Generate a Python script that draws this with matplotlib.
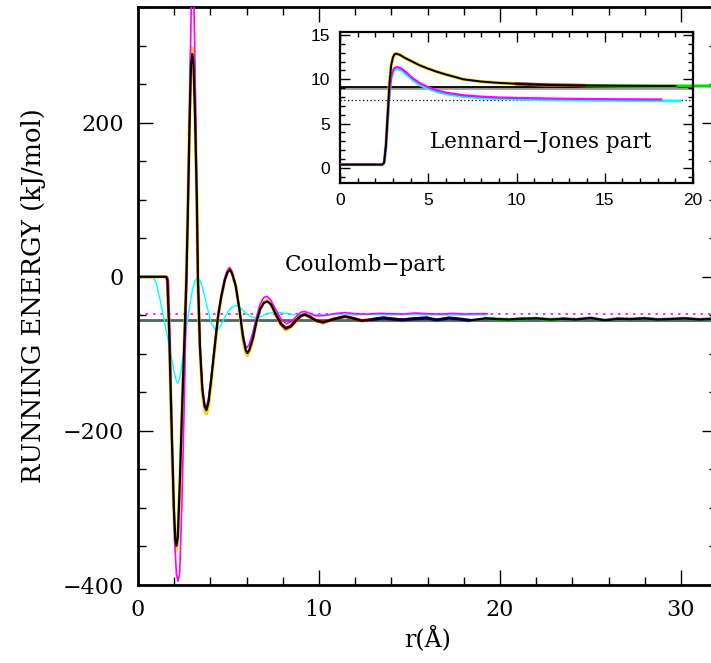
import matplotlib
matplotlib.use("Agg")
import matplotlib.pyplot as plt
from matplotlib.ticker import MultipleLocator

# ---- Coulomb part (main panel) ----
coul_r = [0.0, 1.55, 1.62, 1.72, 1.85, 1.98, 2.06, 2.12, 2.2, 2.32,
          2.45, 2.58, 2.67, 2.75, 2.85, 2.93, 3.0, 3.07, 3.15, 3.25,
          3.31, 3.42, 3.55, 3.68, 3.78, 3.9, 4.05, 4.25, 4.42, 4.6,
          4.8, 4.95, 5.08, 5.2, 5.4, 5.6, 5.8, 5.95, 6.04, 6.15,
          6.35, 6.55, 6.75, 6.95, 7.15, 7.35, 7.6, 7.9, 8.16, 8.45,
          8.75, 9.0, 9.23, 9.5, 9.8, 10.24, 10.8, 11.44, 11.9, 12.36,
          12.95, 13.55, 14.1, 14.6, 15.3, 15.95, 16.5, 17.2, 17.8, 18.3,
          19.2, 19.9, 20.5, 21.2, 22.0, 22.8, 23.5, 24.2, 25.0, 25.8,
          26.5, 27.2, 28.0, 28.7, 29.4, 30.2, 31.0, 31.8]
coul_black = [0, 0, -4, -70, -190, -300, -340, -349, -338, -260,
              -160, -70, -4, 80, 200, 275, 289, 275, 210, 100,
              -4, -90, -145, -168, -173, -162, -132, -88, -52, -26,
              -4, 6, 9, 4, -12, -42, -78, -95, -99, -95,
              -80, -58, -42, -34, -32, -36, -48, -61, -67, -64,
              -56, -50.5, -49, -52, -56.5, -59, -55, -51.5, -54, -57,
              -55.5, -53.5, -55, -56, -54.5, -53.5, -56, -53.5, -55, -56.5,
              -54, -55, -55.5, -54.5, -54, -55.5, -54.5, -55.5, -53.5, -56.5,
              -54.5, -55, -54, -55.5, -55, -54, -55.5, -54.5]
# yellow set lies under the black one, slightly deeper extremes
coul_yellow = [0, 0, -4, -72, -193, -305, -346, -355, -343, -264,
               -162, -71, -4, 82, 205, 283, 297, 282, 214, 101,
               -4, -92, -149, -173, -178, -166, -135, -90, -53, -26,
               -4, 7, 11, 5, -12, -43, -80, -98, -102, -97,
               -81, -58, -42, -33, -31, -36, -48, -62, -69, -65,
               -56, -50.5, -48.5, -52, -57, -60]

coul_mag_r = [0.0, 1.62, 1.68, 1.78, 1.9, 2.02, 2.12, 2.21, 2.3, 2.42,
              2.55, 2.69, 2.78, 2.88, 2.95, 3.01, 3.08, 3.16, 3.25, 3.33,
              3.45, 3.58, 3.68, 3.76, 3.88, 4.05, 4.25, 4.42, 4.6, 4.8,
              4.95, 5.05, 5.18, 5.38, 5.58, 5.78, 5.93, 6.02, 6.14, 6.34,
              6.54, 6.74, 6.94, 7.12, 7.33, 7.6, 7.9, 8.2, 8.5, 8.8,
              9.0, 9.2, 9.5, 9.8, 10.24, 10.8, 11.4, 12.0, 12.6, 13.3,
              14.0, 14.7, 15.3, 16.0, 16.7, 17.4, 18.0, 18.7, 19.3]
coul_mag = [0, 0, -4, -90, -230, -340, -385, -395, -385, -300,
            -170, -4, 110, 270, 360, 395, 370, 260, 100, -4,
            -100, -148, -166, -170, -160, -130, -85, -50, -23, -1,
            9, 12, 7, -10, -38, -72, -89, -92, -88, -73,
            -53, -36, -27, -25.5, -30, -42, -55, -61, -58, -50,
            -46, -45, -47.5, -50.5, -50.5, -48, -46.5, -48, -48.5, -47.5,
            -48, -48.5, -47, -48, -48.5, -47.5, -48.5, -48, -48]

coul_cyan_r = [0.0, 0.83, 1.0, 1.2, 1.4, 1.6, 1.77, 1.95, 2.1, 2.19,
               2.3, 2.45, 2.6, 2.8, 3.0, 3.15, 3.3, 3.45, 3.65, 3.85,
               4.05, 4.29, 4.5, 4.7, 4.95, 5.2, 5.41, 5.65, 5.9, 6.2,
               6.52, 6.8, 7.1, 7.6, 8.1, 8.6, 9.2, 10.0, 11.0, 12.0,
               13.0, 14.0, 15.0, 16.0, 17.0, 18.0, 19.2]
coul_cyan = [0, 0, -8, -28, -51, -75, -94, -118, -134, -138,
             -132, -110, -80, -45, -18, -5, -1.7, -6, -22, -42,
             -60, -70, -66, -57, -46, -39, -37.5, -40, -46, -51.5,
             -53.5, -51.5, -48, -45.5, -47.5, -49, -49, -49.5, -49, -49.5,
             -49, -49.5, -49, -49.5, -49.5, -49.5, -49.5]

coul_ref_solid = -55.7
coul_ref_dotted = -48.3

# ---- Lennard-Jones part (inset) ----
lj_r = [0.0, 2.4, 2.5, 2.6, 2.7, 2.8, 2.9, 3.0, 3.1, 3.2,
        3.4, 3.7, 4.0, 4.5, 5.0, 5.5, 6.0, 7.0, 8.0, 9.0,
        10.0, 11.0, 12.0, 14.0, 16.0, 18.0, 19.0]
lj_black = [0.38, 0.38, 0.6, 2.5, 6.0, 9.5, 11.6, 12.5, 12.85, 12.9,
            12.75, 12.4, 12.1, 11.6, 11.2, 10.85, 10.55, 10.0, 9.75, 9.6,
            9.5, 9.42, 9.36, 9.3, 9.27, 9.25, 9.25]
lj_green_r = [14.0, 16.0, 18.0, 20.0, 21.0]
lj_green = [9.3, 9.27, 9.25, 9.25, 9.25]

lj_mag_r = [0.0, 2.4, 2.5, 2.6, 2.7, 2.8, 2.9, 3.0, 3.1, 3.25,
            3.5, 3.8, 4.1, 4.5, 5.0, 5.5, 6.0, 7.0, 8.0, 9.0,
            10.0, 12.0, 14.0, 16.0, 18.2]
lj_mag = [0.38, 0.38, 0.6, 2.4, 5.6, 8.6, 10.3, 11.0, 11.3, 11.4,
          11.2, 10.7, 10.15, 9.6, 9.1, 8.75, 8.5, 8.2, 8.05, 7.95,
          7.9, 7.83, 7.78, 7.75, 7.73]

lj_cyan_r = [0.0, 2.4, 2.5, 2.6, 2.7, 2.8, 2.9, 3.0, 3.1, 3.25,
             3.5, 3.8, 4.1, 4.5, 5.0, 5.5, 6.0, 7.0, 8.0, 9.0,
             10.0, 12.0, 14.0, 16.0, 18.0, 19.25]
lj_cyan = [0.38, 0.38, 0.6, 2.3, 5.4, 8.4, 10.1, 10.8, 11.1, 11.2,
           11.0, 10.5, 9.95, 9.4, 8.95, 8.6, 8.35, 8.05, 7.9, 7.8,
           7.75, 7.68, 7.63, 7.6, 7.58, 7.55]

lj_ref_solid = 9.17
lj_ref_gray = 8.98
lj_ref_dotted = 7.63

plt.rcParams["font.family"] = "DejaVu Serif"

fig = plt.figure(figsize=(7.11, 6.63), dpi=100)
ax = fig.add_axes([0.1941, 0.1176, 0.8146, 0.8718])

# reference levels
ax.axhline(coul_ref_solid, color="#4d6464", lw=2.0, zorder=1)
ax.axhline(coul_ref_dotted, color="magenta", lw=1.2, ls=(0, (1.5, 3)), zorder=1)

ax.plot(coul_r[:len(coul_yellow)], coul_yellow, color="#ffd000", lw=2.4, zorder=2)
# other data sets that hide under the black curve
ax.plot(coul_r[46:66], coul_black[46:66], color="red", lw=2.3, zorder=2)
ax.plot(coul_r[60:70], coul_black[60:70], color="blue", lw=2.3, zorder=2)
ax.plot(coul_r[70:77], coul_black[70:77], color="#00e000", lw=2.3, zorder=2)
ax.plot(coul_r[76:], coul_black[76:], color="#5a8080", lw=2.3, zorder=2)
ax.plot(coul_cyan_r, coul_cyan, color="cyan", lw=1.0, zorder=3)
ax.plot(coul_mag_r, coul_mag, color="magenta", lw=1.2, zorder=3)
ax.plot(coul_r, coul_black, color="black", lw=1.6, zorder=4)

ax.set_xlim(0, 32)
ax.set_ylim(-400, 350)
ax.xaxis.set_major_locator(MultipleLocator(10))
ax.xaxis.set_minor_locator(MultipleLocator(2))
ax.yaxis.set_major_locator(MultipleLocator(200))
ax.yaxis.set_minor_locator(MultipleLocator(50))
ax.tick_params(which="both", direction="in", top=True, right=True, labelsize=16, pad=10)
ax.tick_params(which="major", length=11, width=1)
ax.tick_params(which="minor", length=5.5, width=1)
for s in ax.spines.values():
    s.set_linewidth(2)
ax.set_xlabel("r(Å)", fontsize=17, labelpad=4)
ax.set_ylabel("RUNNING ENERGY (kJ/mol)", fontsize=18.5, labelpad=12)
ax.text(8.1, 15.5, "Coulomb\u2212part", fontsize=15.5, va="center")

# ---- inset ----
ax2 = fig.add_axes([0.4782, 0.724, 0.4965, 0.2278])
ax2.axhline(lj_ref_gray, color="#9a9a9a", lw=2.0, zorder=1)
ax2.axhline(lj_ref_solid, color="black", lw=1.3, zorder=1)
ax2.axhline(lj_ref_dotted, color="black", lw=0.9, ls=(0, (1, 2)), zorder=1)

ax2.plot(lj_r, lj_black, color="#ffd000", lw=2.4, zorder=2)
ax2.plot(lj_r[20:24], lj_black[20:24], color="#b03010", lw=2.4, zorder=2)
ax2.plot(lj_green_r, lj_green, color="#00e000", lw=2.2, zorder=2, clip_on=False)
ax2.plot(lj_cyan_r, lj_cyan, color="cyan", lw=2.0, zorder=3)
ax2.plot(lj_mag_r, lj_mag, color="magenta", lw=1.6, zorder=3)
ax2.plot(lj_r, lj_black, color="black", lw=1.4, zorder=4)

ax2.set_xlim(0, 20)
ax2.set_ylim(-1.7, 15.35)
ax2.xaxis.set_major_locator(MultipleLocator(5))
ax2.xaxis.set_minor_locator(MultipleLocator(1))
ax2.yaxis.set_major_locator(MultipleLocator(5))
ax2.yaxis.set_minor_locator(MultipleLocator(1))
ax2.tick_params(which="both", direction="in", top=True, right=True,
                labelsize=12.5, pad=7, labelfontfamily="Liberation Sans")
ax2.tick_params(which="major", length=7, width=1)
ax2.tick_params(which="minor", length=3.5, width=1)
for s in ax2.spines.values():
    s.set_linewidth(1.6)
ax2.text(5.1, 2.97, "Lennard\u2212Jones part", fontsize=15.5, va="center")

fig.savefig("out.png", dpi=100)
